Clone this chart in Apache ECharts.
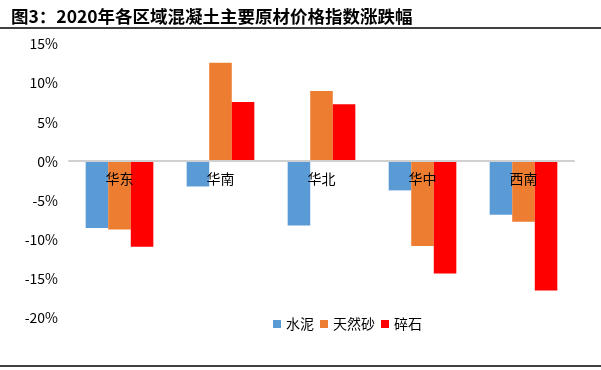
<!DOCTYPE html>
<html><head><meta charset="utf-8">
<script src="https://cdn.jsdelivr.net/npm/echarts@6/dist/echarts.min.js"></script>
<style>html,body{margin:0;padding:0;background:#fff}#c{width:601px;height:370px}</style>
</head><body><div id="c"></div>
<script>
var categories = ['华东','华南','华北','华中','西南'];
var cement = [-8.5, -3.2, -8.2, -3.7, -6.8];
var sand = [-8.7, 12.6, 9.0, -10.8, -7.7];
var gravel = [-10.9, 7.6, 7.3, -14.3, -16.5];
var seriesNames = ['水泥','天然砂','碎石'];
var titleText = '图3：2020年各区域混凝土主要原材价格指数涨跌幅';

var chart = echarts.init(document.getElementById('c'), null, {renderer:'canvas'});
var font = '"Noto Sans CJK SC", "Microsoft YaHei", sans-serif';
chart.setOption({
  animation: false,
  textStyle: {fontFamily: font},
  title: {text: titleText, left: 6, top: 3, textStyle: {fontSize: 17.5, fontWeight: 'bold', color: '#000', fontFamily: font}},
  graphic: [
    {type:'line', shape:{x1:0,y1:28,x2:601,y2:28}, style:{stroke:'#000', lineWidth:1.5}},
    {type:'line', shape:{x1:0,y1:366,x2:601,y2:366}, style:{stroke:'#000', lineWidth:1.5}}
  ],
  legend: {
    data: seriesNames, left: 268, top: 312, itemWidth: 8, itemHeight: 8, itemGap: 6,
    icon: 'rect', textStyle: {fontSize: 14, color: '#000', fontFamily: font}
  },
  grid: {left: 69, right: 27, top: 44, bottom: 52, containLabel: false},
  xAxis: {
    type: 'category', data: categories, z: 10, offset: -157,
    axisLine: {onZero: false, lineStyle: {color: '#d0d0d0', width: 2}},
    axisTick: {show: false},
    axisLabel: {fontSize: 14, color: '#000', margin: 11, fontFamily: font}
  },
  yAxis: {
    type: 'value', min: -20, max: 15, interval: 5,
    axisLabel: {formatter: '{value}%', fontSize: 14, color: '#000', margin: 11, fontFamily: font},
    splitLine: {show: false}, axisLine: {show: false}, axisTick: {show: false}
  },
  series: [
    {name: seriesNames[0], type: 'bar', data: cement, itemStyle: {color: '#5B9BD5'}, barGap: '0%', barCategoryGap: '33%'},
    {name: seriesNames[1], type: 'bar', data: sand, itemStyle: {color: '#ED7D31'}, barGap: '0%', barCategoryGap: '33%'},
    {name: seriesNames[2], type: 'bar', data: gravel, itemStyle: {color: '#FF0000'}, barGap: '0%', barCategoryGap: '33%'}
  ]
});
</script></body></html>
